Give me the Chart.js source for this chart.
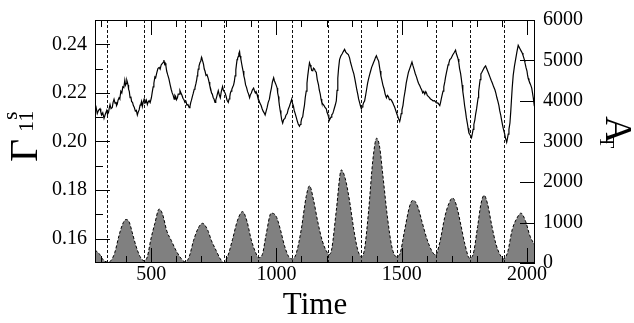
<!DOCTYPE html>
<html>
<head>
<meta charset="utf-8">
<script src="https://cdn.jsdelivr.net/npm/chart.js@4.4.1/dist/chart.umd.min.js"></script>
<style>
  html, body { margin: 0; padding: 0; background: #fff; }
  #wrap { width: 634px; height: 323px; }
</style>
</head>
<body>
<div id="wrap"><canvas id="chart" width="634" height="323"></canvas></div>
<script>
// ---- data -----------------------------------------------------------
const gammaTime = [
  276, 280, 285, 290, 296, 299, 303, 307, 312, 317, 323, 326, 330, 333, 336, 340,
  345, 348, 352, 356, 360, 362, 365, 368, 372, 375, 379, 383, 387, 391, 395, 398,
  400, 403, 405, 408, 410, 413, 416, 419, 422, 426, 429, 433, 437, 441, 445, 448,
  452, 456, 459, 462, 465, 468, 472, 475, 478, 481, 485, 488, 492, 496, 501, 504,
  508, 511, 515, 518, 522, 527, 532, 536, 540, 544, 549, 551, 554, 556, 559, 562,
  566, 571, 576, 580, 584, 588, 592, 595, 598, 601, 605, 608, 612, 615, 619, 623,
  627, 631, 635, 639, 643, 647, 652, 655, 658, 661, 665, 668, 672, 675, 679, 682,
  684, 686, 688, 691, 695, 698, 701, 703, 706, 709, 712, 715, 719, 723, 728, 731,
  734, 737, 741, 744, 748, 751, 755, 758, 762, 765, 768, 772, 776, 780, 785, 788,
  792, 795, 799, 803, 808, 811, 814, 816, 819, 822, 826, 829, 832, 835, 838, 840,
  843, 845, 848, 850, 853, 855, 858, 861, 864, 867, 870, 873, 877, 881, 885, 889,
  893, 896, 900, 904, 909, 912, 916, 919, 923, 926, 930, 934, 939, 943, 947, 951,
  955, 959, 963, 967, 972, 976, 980, 984, 989, 992, 996, 999, 1003, 1005, 1008, 1010,
  1012, 1015, 1018, 1021, 1025, 1029, 1034, 1038, 1043, 1047, 1052, 1056, 1061, 1064, 1068, 1071,
  1075, 1079, 1083, 1087, 1092, 1095, 1098, 1101, 1105, 1108, 1112, 1115, 1119, 1122, 1125, 1128,
  1132, 1135, 1138, 1141, 1145, 1148, 1152, 1155, 1159, 1163, 1168, 1171, 1175, 1178, 1181, 1185,
  1190, 1194, 1199, 1202, 1206, 1209, 1212, 1215, 1218, 1221, 1225, 1228, 1232, 1235, 1239, 1242,
  1245, 1248, 1252, 1257, 1262, 1267, 1272, 1277, 1282, 1287, 1292, 1296, 1300, 1304, 1309, 1313,
  1317, 1321, 1325, 1328, 1332, 1335, 1339, 1342, 1345, 1348, 1352, 1356, 1360, 1364, 1368, 1372,
  1376, 1380, 1385, 1388, 1392, 1395, 1399, 1403, 1408, 1411, 1414, 1417, 1421, 1425, 1430, 1434,
  1439, 1443, 1447, 1451, 1456, 1460, 1464, 1468, 1472, 1477, 1482, 1487, 1492, 1495, 1498, 1501,
  1505, 1509, 1514, 1518, 1523, 1527, 1532, 1536, 1541, 1545, 1550, 1554, 1559, 1563, 1567, 1571,
  1576, 1580, 1584, 1588, 1592, 1596, 1599, 1602, 1605, 1610, 1615, 1620, 1625, 1631, 1638, 1645,
  1652, 1655, 1658, 1661, 1665, 1668, 1672, 1675, 1679, 1682, 1685, 1688, 1692, 1697, 1703, 1709,
  1715, 1718, 1722, 1725, 1728, 1731, 1735, 1738, 1741, 1744, 1748, 1751, 1755, 1758, 1762, 1765,
  1768, 1771, 1774, 1776, 1779, 1782, 1785, 1788, 1792, 1795, 1799, 1802, 1805, 1807, 1810, 1813,
  1816, 1820, 1825, 1830, 1835, 1839, 1843, 1847, 1852, 1857, 1862, 1867, 1872, 1876, 1880, 1884,
  1888, 1891, 1895, 1898, 1901, 1905, 1910, 1914, 1919, 1922, 1925, 1928, 1932, 1935, 1938, 1941,
  1945, 1950, 1955, 1960, 1965, 1969, 1973, 1977, 1981, 1984, 1987, 1990, 1992, 1996, 2000, 2002,
  2005, 2008, 2012, 2015, 2019, 2022, 2025, 2027, 2029, 2032
];
const gammaValue = [
  0.2135, 0.2142, 0.2115, 0.2128, 0.2135, 0.2122, 0.2110, 0.2118, 0.2095, 0.2112, 0.2128, 0.2112, 0.2120, 0.2138, 0.2152, 0.2135,
  0.2140, 0.2160, 0.2174, 0.2158, 0.2160, 0.2148, 0.2154, 0.2170, 0.2180, 0.2175, 0.2207, 0.2200, 0.2225, 0.2222, 0.2252, 0.2232,
  0.2238, 0.2252, 0.2245, 0.2232, 0.2215, 0.2205, 0.2180, 0.2185, 0.2165, 0.2160, 0.2148, 0.2140, 0.2125, 0.2128, 0.2109, 0.2120,
  0.2130, 0.2150, 0.2154, 0.2165, 0.2145, 0.2160, 0.2174, 0.2158, 0.2160, 0.2170, 0.2152, 0.2162, 0.2168, 0.2160, 0.2180, 0.2200,
  0.2225, 0.2240, 0.2266, 0.2262, 0.2280, 0.2300, 0.2305, 0.2298, 0.2315, 0.2320, 0.2327, 0.2335, 0.2318, 0.2322, 0.2311, 0.2290,
  0.2275, 0.2258, 0.2233, 0.2215, 0.2200, 0.2190, 0.2174, 0.2190, 0.2185, 0.2172, 0.2180, 0.2195, 0.2195, 0.2210, 0.2200, 0.2190,
  0.2178, 0.2172, 0.2161, 0.2165, 0.2150, 0.2152, 0.2139, 0.2145, 0.2160, 0.2170, 0.2187, 0.2198, 0.2215, 0.2222, 0.2239, 0.2255,
  0.2270, 0.2282, 0.2298, 0.2310, 0.2325, 0.2330, 0.2346, 0.2340, 0.2330, 0.2318, 0.2298, 0.2290, 0.2272, 0.2275, 0.2259, 0.2245,
  0.2230, 0.2220, 0.2200, 0.2195, 0.2180, 0.2175, 0.2161, 0.2170, 0.2185, 0.2198, 0.2209, 0.2192, 0.2180, 0.2205, 0.2226, 0.2212,
  0.2205, 0.2200, 0.2187, 0.2170, 0.2161, 0.2175, 0.2185, 0.2198, 0.2207, 0.2215, 0.2225, 0.2232, 0.2246, 0.2270, 0.2295, 0.2312,
  0.2337, 0.2342, 0.2350, 0.2362, 0.2370, 0.2352, 0.2340, 0.2322, 0.2305, 0.2290, 0.2270, 0.2258, 0.2233, 0.2222, 0.2205, 0.2195,
  0.2180, 0.2192, 0.2200, 0.2212, 0.2220, 0.2210, 0.2200, 0.2205, 0.2193, 0.2180, 0.2170, 0.2158, 0.2148, 0.2135, 0.2125, 0.2118,
  0.2109, 0.2125, 0.2140, 0.2160, 0.2174, 0.2200, 0.2220, 0.2245, 0.2262, 0.2250, 0.2240, 0.2232, 0.2220, 0.2200, 0.2185, 0.2165,
  0.2148, 0.2128, 0.2110, 0.2090, 0.2076, 0.2090, 0.2095, 0.2108, 0.2115, 0.2132, 0.2145, 0.2158, 0.2174, 0.2158, 0.2145, 0.2128,
  0.2115, 0.2100, 0.2085, 0.2072, 0.2063, 0.2070, 0.2080, 0.2095, 0.2102, 0.2125, 0.2150, 0.2180, 0.2207, 0.2240, 0.2270, 0.2295,
  0.2324, 0.2315, 0.2305, 0.2292, 0.2291, 0.2302, 0.2298, 0.2290, 0.2285, 0.2255, 0.2233, 0.2212, 0.2195, 0.2175, 0.2161, 0.2155,
  0.2148, 0.2140, 0.2135, 0.2120, 0.2110, 0.2098, 0.2089, 0.2095, 0.2100, 0.2110, 0.2115, 0.2125, 0.2140, 0.2150, 0.2167, 0.2210,
  0.2260, 0.2300, 0.2337, 0.2352, 0.2360, 0.2370, 0.2379, 0.2368, 0.2362, 0.2358, 0.2344, 0.2325, 0.2310, 0.2295, 0.2278, 0.2258,
  0.2235, 0.2212, 0.2193, 0.2175, 0.2160, 0.2148, 0.2135, 0.2142, 0.2150, 0.2160, 0.2167, 0.2190, 0.2215, 0.2240, 0.2259, 0.2275,
  0.2290, 0.2305, 0.2318, 0.2326, 0.2335, 0.2345, 0.2353, 0.2342, 0.2331, 0.2310, 0.2290, 0.2270, 0.2252, 0.2232, 0.2215, 0.2195,
  0.2180, 0.2190, 0.2185, 0.2172, 0.2174, 0.2168, 0.2160, 0.2150, 0.2141, 0.2125, 0.2110, 0.2095, 0.2082, 0.2095, 0.2115, 0.2130,
  0.2148, 0.2180, 0.2210, 0.2240, 0.2266, 0.2285, 0.2300, 0.2312, 0.2327, 0.2312, 0.2295, 0.2280, 0.2266, 0.2252, 0.2240, 0.2232,
  0.2220, 0.2212, 0.2200, 0.2206, 0.2195, 0.2205, 0.2200, 0.2190, 0.2187, 0.2182, 0.2175, 0.2172, 0.2167, 0.2168, 0.2160, 0.2158,
  0.2148, 0.2160, 0.2175, 0.2190, 0.2207, 0.2225, 0.2245, 0.2265, 0.2285, 0.2300, 0.2315, 0.2322, 0.2337, 0.2342, 0.2355, 0.2365,
  0.2376, 0.2362, 0.2350, 0.2340, 0.2324, 0.2300, 0.2280, 0.2258, 0.2233, 0.2205, 0.2175, 0.2148, 0.2122, 0.2098, 0.2075, 0.2055,
  0.2036, 0.2030, 0.2025, 0.2020, 0.2017, 0.2032, 0.2050, 0.2070, 0.2089, 0.2112, 0.2135, 0.2158, 0.2180, 0.2205, 0.2230, 0.2255,
  0.2278, 0.2285, 0.2295, 0.2305, 0.2311, 0.2300, 0.2290, 0.2280, 0.2266, 0.2252, 0.2240, 0.2225, 0.2213, 0.2198, 0.2180, 0.2165,
  0.2148, 0.2128, 0.2110, 0.2092, 0.2076, 0.2055, 0.2035, 0.2015, 0.1997, 0.2012, 0.2030, 0.2050, 0.2076, 0.2120, 0.2170, 0.2220,
  0.2272, 0.2310, 0.2340, 0.2370, 0.2396, 0.2388, 0.2380, 0.2372, 0.2364, 0.2355, 0.2345, 0.2335, 0.2324, 0.2305, 0.2290, 0.2275,
  0.2259, 0.2250, 0.2240, 0.2232, 0.2220, 0.2200, 0.2180, 0.2165, 0.2148, 0.2140
];

const areaTime = [
  276, 292, 309, 325, 339, 355, 372, 385, 399, 412, 425, 439, 456, 472, 485, 499,
  515, 532, 545, 563, 581, 599, 619, 636, 652, 669, 688, 705, 725, 741, 759, 776,
  789, 805, 825, 845, 865, 883, 899, 916, 929, 943, 959, 979, 999, 1016, 1032, 1049,
  1065, 1079, 1099, 1119, 1132, 1149, 1165, 1183, 1203, 1212, 1221, 1239, 1259, 1275, 1292, 1309,
  1325, 1339, 1352, 1368, 1385, 1400, 1412, 1425, 1443, 1461, 1479, 1492, 1512, 1532, 1545, 1563,
  1581, 1601, 1619, 1635, 1652, 1672, 1688, 1703, 1719, 1736, 1752, 1771, 1785, 1803, 1816, 1829,
  1843, 1859, 1876, 1892, 1907, 1923, 1941, 1959, 1976, 1995, 2012, 2032
];
const areaValue = [
  320, 235, 78, 24, 55, 259, 682, 941, 1074, 1019, 745, 431, 157, 55, 157, 588,
  980, 1333, 1215, 784, 549, 314, 118, 24, 157, 549, 862, 980, 823, 549, 314, 102,
  10, 157, 588, 1058, 1270, 1019, 588, 274, 133, 196, 706, 1231, 1152, 823, 431, 157,
  102, 235, 823, 1646, 1905, 1529, 1019, 549, 259, 212, 353, 1294, 2297, 2078, 1529, 823,
  314, 157, 353, 1294, 2548, 3081, 2862, 2156, 1137, 392, 157, 212, 823, 1411, 1552, 1411,
  1019, 588, 314, 196, 510, 1137, 1466, 1607, 1411, 941, 470, 118, 212, 902, 1450, 1670,
  1450, 941, 470, 212, 102, 274, 823, 1098, 1231, 1019, 666, 430
];

// dashed vertical markers (minima of A_T)
const markerTimes = [323, 472, 635, 789, 928, 1064, 1205, 1339, 1481, 1635, 1771, 1907];

// ticks
const timeTicks = [500, 1000, 1500, 2000];
const timeMinor = [300, 400, 600, 700, 800, 900, 1100, 1200, 1300, 1400, 1600, 1700, 1800, 1900];
const gammaTicks = [0.16, 0.18, 0.20, 0.22, 0.24];
const gammaMinor = [0.17, 0.19, 0.21, 0.23];
const areaTicks = [0, 1000, 2000, 3000, 4000, 5000, 6000];

const FONT = '"Liberation Serif", "DejaVu Serif", serif';

// ---- frame, inward ticks, markers, axis titles ---------------------
const framePlugin = {
  id: 'frame',
  afterDatasetsDraw(chart) {
    const { ctx, chartArea: a, scales } = chart;
    const sx = scales.x, sy = scales.y, sy2 = scales.y2;
    ctx.save();
    ctx.lineWidth = 1;

    // dashed markers
    ctx.strokeStyle = '#111';
    ctx.setLineDash([3, 2]);
    markerTimes.forEach((t) => {
      const x = Math.round(sx.getPixelForValue(t)) + 0.5;
      ctx.beginPath();
      ctx.moveTo(x, a.top);
      ctx.lineTo(x, a.bottom);
      ctx.stroke();
    });
    ctx.setLineDash([]);

    // box
    ctx.strokeStyle = '#000';
    ctx.strokeRect(a.left + 0.5, a.top + 0.5, a.right - a.left - 1, a.bottom - a.top - 1);

    const line = (x1, y1, x2, y2) => {
      ctx.beginPath();
      ctx.moveTo(x1, y1);
      ctx.lineTo(x2, y2);
      ctx.stroke();
    };

    // time ticks, bottom and top
    const xt = (t, len) => {
      const x = Math.round(sx.getPixelForValue(t)) + 0.5;
      line(x, a.bottom, x, a.bottom - len);
      line(x, a.top, x, a.top + len);
    };
    timeTicks.forEach((t) => xt(t, 15));
    timeMinor.forEach((t) => xt(t, 7));

    // left ticks
    const yl = (v, len) => {
      const y = Math.round(sy.getPixelForValue(v)) + 0.5;
      line(a.left, y, a.left + len, y);
    };
    gammaTicks.forEach((v) => yl(v, 15));
    gammaMinor.forEach((v) => yl(v, 8));

    // right ticks
    areaTicks.forEach((v) => {
      const y = Math.round(sy2.getPixelForValue(v)) + 0.5;
      line(a.right, y, a.right - 15, y);
    });
    ctx.restore();
  },
  afterDraw(chart) {
    const { ctx, chartArea: a } = chart;
    ctx.save();
    ctx.fillStyle = '#000';
    ctx.textBaseline = 'alphabetic';

    // x title
    ctx.textAlign = 'center';
    ctx.font = '31px ' + FONT;
    ctx.fillText('Time', (a.left + a.right) / 2, 314);

    // left title: Gamma^s_11, reading upwards
    ctx.textAlign = 'left';
    ctx.save();
    ctx.translate(37, 162);
    ctx.rotate(-Math.PI / 2);
    ctx.font = '40px ' + FONT;
    ctx.fillText('\u0393', 0, 0);
    ctx.font = '22px ' + FONT;
    ctx.fillText('11', 30, -4);
    ctx.fillText('s', 42, -20);
    ctx.restore();

    // right title: A_T, reading downwards
    ctx.save();
    ctx.translate(606, 116);
    ctx.rotate(Math.PI / 2);
    ctx.font = '38px ' + FONT;
    ctx.fillText('A', 0, 0);
    ctx.font = '20px ' + FONT;
    ctx.fillText('T', 20, 6);
    ctx.restore();

    ctx.restore();
  },
};

// ---- chart ---------------------------------------------------------
new Chart(document.getElementById('chart'), {
  type: 'line',
  data: {
    datasets: [
      {
        label: 'Gamma',
        data: gammaTime.map((t, i) => ({ x: t, y: gammaValue[i] })),
        yAxisID: 'y',
        borderColor: '#000',
        borderWidth: 1.2,
        pointRadius: 0,
        tension: 0,
        fill: false,
      },
      {
        label: 'A_T',
        data: areaTime.map((t, i) => ({ x: t, y: areaValue[i] })),
        yAxisID: 'y2',
        borderColor: '#000',
        borderWidth: 1,
        borderDash: [3, 2],
        backgroundColor: '#808080',
        pointRadius: 0,
        cubicInterpolationMode: 'monotone',
        fill: 'origin',
      },
    ],
  },
  options: {
    responsive: false,
    animation: false,
    events: [],
    layout: { padding: { top: 8, left: 0, right: 0, bottom: 0 } },
    plugins: { legend: { display: false }, tooltip: { enabled: false } },
    scales: {
      x: {
        type: 'linear',
        position: 'bottom',
        min: 276,
        max: 2032,
        afterBuildTicks: (s) => { s.ticks = timeTicks.map((v) => ({ value: v })); },
        afterFit: (s) => { s.height = 60; },
        grid: { display: false, drawTicks: false },
        border: { display: false },
        ticks: { color: '#000', font: { family: FONT, size: 20 }, padding: 0, callback: (v) => String(v) },
      },
      y: {
        position: 'left',
        min: 0.15,
        max: 0.25,
        afterBuildTicks: (s) => { s.ticks = gammaTicks.map((v) => ({ value: v })); },
        afterFit: (s) => { s.width = 95; },
        grid: { display: false, drawTicks: false },
        border: { display: false },
        ticks: { color: '#000', font: { family: FONT, size: 20 }, padding: 8, callback: (v) => v.toFixed(2) },
      },
      y2: {
        position: 'right',
        min: 0,
        max: 6000,
        afterBuildTicks: (s) => { s.ticks = areaTicks.map((v) => ({ value: v })); },
        afterFit: (s) => { s.width = 99; },
        grid: { display: false, drawTicks: false },
        border: { display: false },
        ticks: { color: '#000', font: { family: FONT, size: 20 }, padding: 8, callback: (v) => String(v) },
      },
    },
  },
  plugins: [framePlugin],
});
</script>
</body>
</html>
